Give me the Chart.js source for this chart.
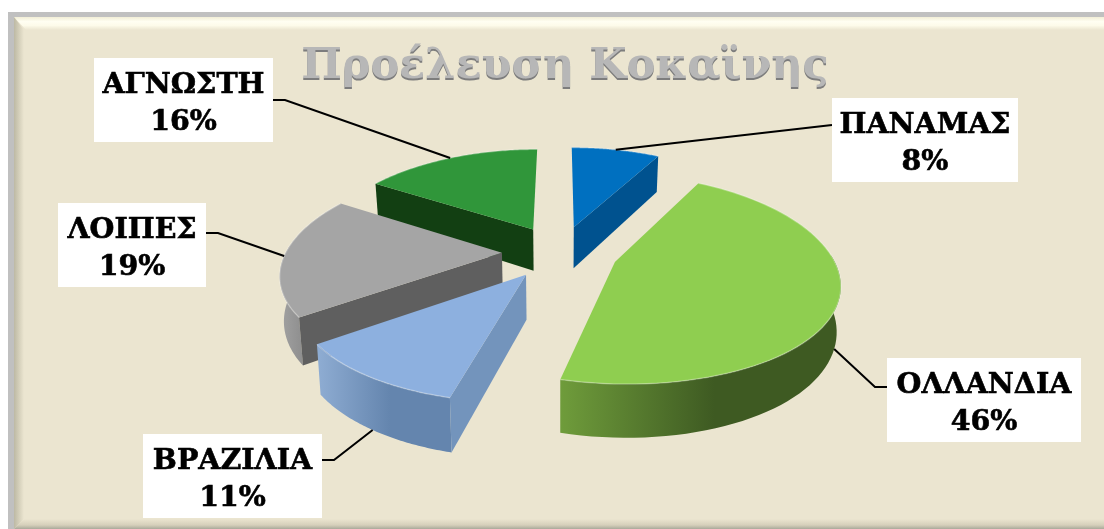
<!DOCTYPE html>
<html><head><meta charset="utf-8"><title>Προέλευση Κοκαϊνης</title>
<script src="https://cdn.jsdelivr.net/npm/chart.js"></script>
<style>body{margin:0;background:#fff;}canvas{display:block;}</style></head>
<body>
<canvas id="pie" width="1104" height="529"></canvas>
<script>
// ==================== DATA ====================
const titleText = 'Προέλευση Κοκαϊνης';
const categories = ['ΠΑΝΑΜΑΣ', 'ΟΛΛΑΝΔΙΑ', 'ΒΡΑΖΙΛΙΑ', 'ΛΟΙΠΕΣ', 'ΑΓΝΩΣΤΗ'];
const shares = [8, 46, 11, 19, 16];

// ==================== STYLE ====================
const topColors = ['#0070c0', '#8fce50', '#8db0df', '#a5a5a5', '#30963a'];
const cutColors = ['#00528f', '#4f7029', '#7394bc', '#5f5f5f', '#123f12'];
const rimLeft = ['#0060a8', '#6f9c3b', '#8fadd3', '#a2a2a2', '#1a5a1a'];
const rimRight = ['#004f8c', '#3e5a22', '#6485ae', '#858585', '#123f12'];
// label box: left, top, width, height of the leader where it meets the box
const boxes = [[832, 98, 186, 125], [887, 358, 194, 387], [143, 434, 179, 460], [58, 203, 148, 233], [94, 58, 179, 100]];
const BOX_H = 84;

const EXPLODE = 58, TILT = 0.46, PERSP_X = 0.00084, PERSP_Y = 0.00073, DEPTH = 43, SHRINK = 0.985;
const LABEL_FONT = 'bold 28.5px "DejaVu Serif"';
const BG = '#ebe5d0';

// ground plane -> screen
function project(cx, cy, u, v) {
    return { x: cx + u / (1 - PERSP_X * v), y: cy + TILT * v / (1 - PERSP_Y * v), v };
}

function sliceGeometry(el) {
    const mid = (el.startAngle + el.endAngle) / 2;
    const o = el.options.offset;
    const ou = Math.cos(mid) * o, ov = Math.sin(mid) * o;
    const pts = [], frontPts = [];
    const steps = 72;
    for (let i = 0; i <= steps; i++) {
        const a = el.startAngle + (el.endAngle - el.startAngle) * i / steps;
        const p = project(el.x, el.y, ou + Math.cos(a) * el.outerRadius, ov + Math.sin(a) * el.outerRadius);
        pts.push(p);
        if (Math.sin(a) > -0.1) frontPts.push(p);
    }
    const apex = project(el.x, el.y, ou, ov);
    const midRim = project(el.x, el.y, ou + Math.cos(mid) * el.outerRadius, ov + Math.sin(mid) * el.outerRadius);
    return { mid, pts, frontPts, apex, midRim, cx: el.x };
}

// same point on the underside of the slice, deeper towards the viewer
function lower(p, cx) {
    return { x: cx + (p.x - cx) * SHRINK, y: p.y + DEPTH / (1 - PERSP_X * p.v) };
}

function fillPoly(ctx, pts, fill) {
    ctx.beginPath();
    pts.forEach((p, i) => i ? ctx.lineTo(p.x, p.y) : ctx.moveTo(p.x, p.y));
    ctx.closePath();
    ctx.fillStyle = fill;
    ctx.fill();
}

function drawFrame(ctx) {
    ctx.fillStyle = '#ffffff';
    ctx.fillRect(0, 0, 1104, 529);
    ctx.fillStyle = '#c0c0c0';
    ctx.fillRect(8, 12, 1096, 517);
    ctx.fillStyle = BG;
    ctx.fillRect(14, 17, 1090, 512);
    const top = ctx.createLinearGradient(0, 17, 0, 30);
    top.addColorStop(0, '#f2eed6');
    top.addColorStop(0.35, '#fffef2');
    top.addColorStop(0.65, '#fdfbea');
    top.addColorStop(1, BG);
    fillPoly(ctx, [{x:14,y:17},{x:1104,y:17},{x:1104,y:30},{x:26,y:30}], top);
    const left = ctx.createLinearGradient(14, 0, 24, 0);
    left.addColorStop(0, '#bdb9a4');
    left.addColorStop(1, BG);
    fillPoly(ctx, [{x:14,y:17},{x:24,y:30},{x:24,y:519},{x:14,y:529}], left);
    const bottom = ctx.createLinearGradient(0, 519, 0, 529);
    bottom.addColorStop(0, BG);
    bottom.addColorStop(0.6, '#d6d0bb');
    bottom.addColorStop(1, '#a9a99a');
    fillPoly(ctx, [{x:14,y:529},{x:24,y:519},{x:1104,y:519},{x:1104,y:529}], bottom);
}

function drawTitle(ctx) {
    ctx.font = 'bold 43px "DejaVu Serif"';
    ctx.textAlign = 'center';
    ctx.textBaseline = 'alphabetic';
    ctx.fillStyle = '#7d7d7d';
    ctx.fillText(titleText, 565, 79.5);
    ctx.fillStyle = '#b7b7b7';
    ctx.fillText(titleText, 565, 78);
}

function drawSlice(ctx, g, i) {
    const first = g.pts[0], last = g.pts[g.pts.length - 1];
    const low = p => lower(p, g.cx);
    const xs = g.pts.map(p => p.x);
    const rim = ctx.createLinearGradient(Math.min(...xs), 0, Math.max(...xs), 0);
    rim.addColorStop(0, rimLeft[i]);
    rim.addColorStop(0.55, rimRight[i]);
    rim.addColorStop(1, rimRight[i]);
    if (g.frontPts.length > 1) fillPoly(ctx, g.frontPts.concat(g.frontPts.slice().reverse().map(low)), rim);
    // a cut face only shows when its edge runs so that going down leaves the slice
    if (first.x < g.apex.x - 5) fillPoly(ctx, [g.apex, first, low(first), low(g.apex)], cutColors[i]);
    if (last.x > g.apex.x + 5) fillPoly(ctx, [g.apex, last, low(last), low(g.apex)], cutColors[i]);
    fillPoly(ctx, [g.apex].concat(g.pts), topColors[i]);
    // light bevel along the rim
    ctx.beginPath();
    g.pts.forEach((p, j) => j ? ctx.lineTo(p.x, p.y) : ctx.moveTo(p.x, p.y));
    ctx.strokeStyle = 'rgba(255,255,255,0.28)';
    ctx.lineWidth = 1.5;
    ctx.stroke();
}

function drawLabel(ctx, g, i) {
    const b = boxes[i];
    const front = Math.sin(g.mid) > 0.1;
    const end = front ? lower(g.midRim, g.cx) : g.midRim;
    const onRight = b[0] > g.cx;
    const sx = onRight ? b[0] : b[0] + b[2];
    ctx.beginPath();
    ctx.moveTo(sx, b[3]);
    if (i !== 0) ctx.lineTo(sx + (onRight ? -12 : 12), b[3]);
    ctx.lineTo(end.x, end.y);
    ctx.strokeStyle = '#000000';
    ctx.lineWidth = 2;
    ctx.stroke();
    ctx.fillStyle = '#ffffff';
    ctx.fillRect(b[0], b[1], b[2], BOX_H);
    ctx.fillStyle = '#000000';
    ctx.strokeStyle = '#000000';
    ctx.lineWidth = 0.6;
    ctx.font = LABEL_FONT;
    ctx.textAlign = 'center';
    ctx.textBaseline = 'alphabetic';
    const tx = b[0] + b[2] / 2;
    ctx.fillText(categories[i], tx, b[1] + 35);
    ctx.strokeText(categories[i], tx, b[1] + 35);
    ctx.fillText(shares[i] + '%', tx, b[1] + 72);
    ctx.strokeText(shares[i] + '%', tx, b[1] + 72);
}

const pie3d = {
    id: 'pie3d',
    beforeDraw(chart) {
        drawFrame(chart.ctx);
        drawTitle(chart.ctx);
    },
    beforeDatasetDraw() { return false; },
    afterDatasetsDraw(chart) {
        const ctx = chart.ctx;
        const geos = chart.getDatasetMeta(0).data.map(sliceGeometry);
        const order = geos.map((g, i) => i).sort((a, b) => geos[a].apex.y - geos[b].apex.y);
        order.forEach(i => drawSlice(ctx, geos[i], i));
        geos.forEach((g, i) => drawLabel(ctx, g, i));
    }
};

new Chart(document.getElementById('pie'), {
    type: 'pie',
    data: {
        labels: categories,
        datasets: [{ data: shares, backgroundColor: topColors, offset: EXPLODE, borderWidth: 0 }]
    },
    options: {
        responsive: false,
        animation: false,
        radius: 216,
        layout: { padding: { left: 16, bottom: 25 } },
        plugins: { legend: { display: false }, tooltip: { enabled: false } }
    },
    plugins: [pie3d]
});
</script>
</body></html>
